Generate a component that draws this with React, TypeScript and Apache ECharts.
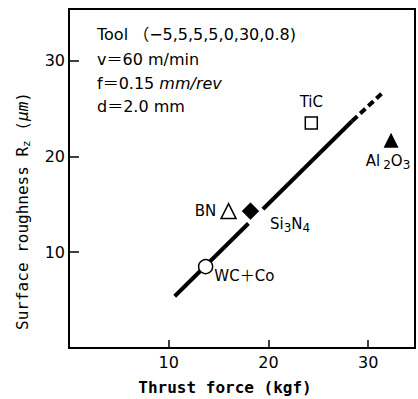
import React, { useEffect, useRef } from "react";
import * as echarts from "echarts";

// Regression line (thrust force kgf, roughness µm)
const solidLine: number[][] = [[10.6, 5.4], [28.4, 23.7]];
const dashedLine: number[][] = [[28.4, 23.7], [31.4, 26.6]];

// Tool materials
const materials = ["WC+Co", "BN", "Si3N4", "TiC", "Al2O3"];
const thrustForce = [13.7, 16.0, 18.2, 24.3, 32.3];
const roughness = [8.5, 14.3, 14.3, 23.5, 21.7];

const xTicks = [10, 20, 30];
const yTicks = [10, 20, 30];

const conditions = [
  "Tool （−5,5,5,5,0,30,0.8)",
  "v＝60 m/min",
  "f＝0.15 {i|mm/rev}",
  "d＝2.0 mm",
];

const FONT = "'DejaVu Sans', 'Noto Sans CJK JP', sans-serif";
const MONO = "'DejaVu Sans Mono', monospace";

export default function App() {
  const ref = useRef<HTMLDivElement>(null);
  useEffect(() => {
    document.body.style.margin = "0";
    const chart = echarts.init(ref.current!, null, { renderer: "svg" });
    const pt = (i: number) => [[thrustForce[i], roughness[i]]];
    const baseLabel = { fontFamily: FONT, fontSize: 15, color: "#000" };
    const subRich = {
      a: { fontFamily: FONT, fontSize: 15, color: "#000", lineHeight: 18 },
      g: { fontFamily: FONT, fontSize: 15, color: "#000", lineHeight: 18, padding: [0, 3, 0, 0] },
      s: { fontFamily: FONT, fontSize: 12, color: "#000", lineHeight: 18, padding: [8, 0, 0, 0] },
    };
    const option: any = {
      animation: false,
      backgroundColor: "#fff",
      grid: {
        left: 69, top: 9, width: 347, height: 339,
        show: true, borderColor: "#000", borderWidth: 2,
      },
      xAxis: {
        type: "value", min: 0, max: 34.7, interval: 10,
        axisLine: { show: true, lineStyle: { color: "#000", width: 2 } },
        axisTick: { show: true, inside: true, length: 8, lineStyle: { color: "#000", width: 1.5 } },
        splitLine: { show: false },
        axisLabel: {
          margin: 6, fontFamily: FONT, fontSize: 16, color: "#000",
          formatter: (v: number) => (xTicks.includes(v) ? String(v) : ""),
        },
      },
      yAxis: {
        type: "value", min: 0, max: 35.4, interval: 10,
        axisLine: { show: true, lineStyle: { color: "#000", width: 2 } },
        axisTick: { show: true, inside: true, length: 10, lineStyle: { color: "#000", width: 1.5 } },
        splitLine: { show: false },
        axisLabel: {
          margin: 4, fontFamily: FONT, fontSize: 16, color: "#000",
          formatter: (v: number) => (yTicks.includes(v) ? String(v) : ""),
        },
      },
      graphic: [
        ...conditions.map((t, k) => ({
          type: "text", left: 97, top: [26, 51, 75, 98][k],
          style: {
            text: t, fontFamily: FONT, fontSize: 16, fill: "#000",
            rich: { i: { fontFamily: FONT, fontSize: 16, fontStyle: "italic", fill: "#000" } },
          },
        })),
        {
          type: "text", x: 225, y: 387,
          style: {
            text: "Thrust force (kgf)", fontFamily: MONO, fontWeight: "bold",
            fontSize: 16, fill: "#000", align: "center", verticalAlign: "middle",
          },
        },
        {
          type: "text", x: 22, y: 211, rotation: Math.PI / 2,
          style: {
            text: "{a|Surface roughness R}{s|z}{a| (}{i|μm}{a|)}",
            align: "center", verticalAlign: "middle",
            rich: {
              a: { fontFamily: MONO, fontSize: 16, fill: "#000", lineHeight: 18 },
              s: { fontFamily: MONO, fontSize: 11, fill: "#000", lineHeight: 18, padding: [8, 0, 0, 0] },
              i: { fontFamily: MONO, fontSize: 16, fontStyle: "italic", fill: "#000", lineHeight: 18 },
            },
          },
        },
      ],
      series: [
        {
          type: "line", data: solidLine, symbol: "none", z: 2,
          lineStyle: { color: "#000", width: 4 },
        },
        {
          type: "line", data: dashedLine, symbol: "none", z: 2,
          lineStyle: { color: "#000", width: 4, type: [7, 4] },
        },
        {
          name: materials[0], type: "scatter", data: pt(0), symbol: "circle", symbolSize: 14, z: 5,
          itemStyle: { color: "#fff", borderColor: "#000", borderWidth: 1.5, opacity: 1 },
          label: { show: true, position: "right", distance: 1, offset: [0, 9], formatter: "WC＋Co", ...baseLabel },
        },
        {
          name: materials[1], type: "scatter", data: pt(1), symbol: "triangle", symbolSize: 15, z: 5,
          itemStyle: { color: "#fff", borderColor: "#000", borderWidth: 1.5, opacity: 1 },
          label: { show: true, position: "left", distance: 4, formatter: "BN", ...baseLabel },
        },
        {
          name: materials[2], type: "scatter", data: pt(2), symbol: "diamond", symbolSize: 23, z: 5,
          itemStyle: { color: "#000", borderColor: "#fff", borderWidth: 4, opacity: 1 },
          label: {
            show: true, position: "right", distance: 2, offset: [4, 13],
            formatter: "{a|Si}{s|3}{a|N}{s|4}", rich: subRich,
          },
        },
        {
          name: materials[3], type: "scatter", data: pt(3), symbol: "rect", symbolSize: 12, z: 5,
          itemStyle: { color: "#fff", borderColor: "#000", borderWidth: 1.5, opacity: 1 },
          label: { show: true, position: "top", distance: 7, formatter: "TiC", ...baseLabel },
        },
        {
          name: materials[4], type: "scatter", data: pt(4), symbol: "triangle", symbolSize: 15, z: 5,
          itemStyle: { color: "#000", opacity: 1 },
          label: {
            show: true, position: "bottom", distance: 4, offset: [-3, 0],
            formatter: "{g|Al}{s|2}{a|O}{s|3}", rich: subRich,
          },
        },
      ],
    };
    chart.setOption(option);
    return () => chart.dispose();
  }, []);
  return (
    <div
      ref={ref}
      style={{ position: "fixed", left: 0, top: 0, width: 418, height: 399, background: "#fff" }}
    />
  );
}
